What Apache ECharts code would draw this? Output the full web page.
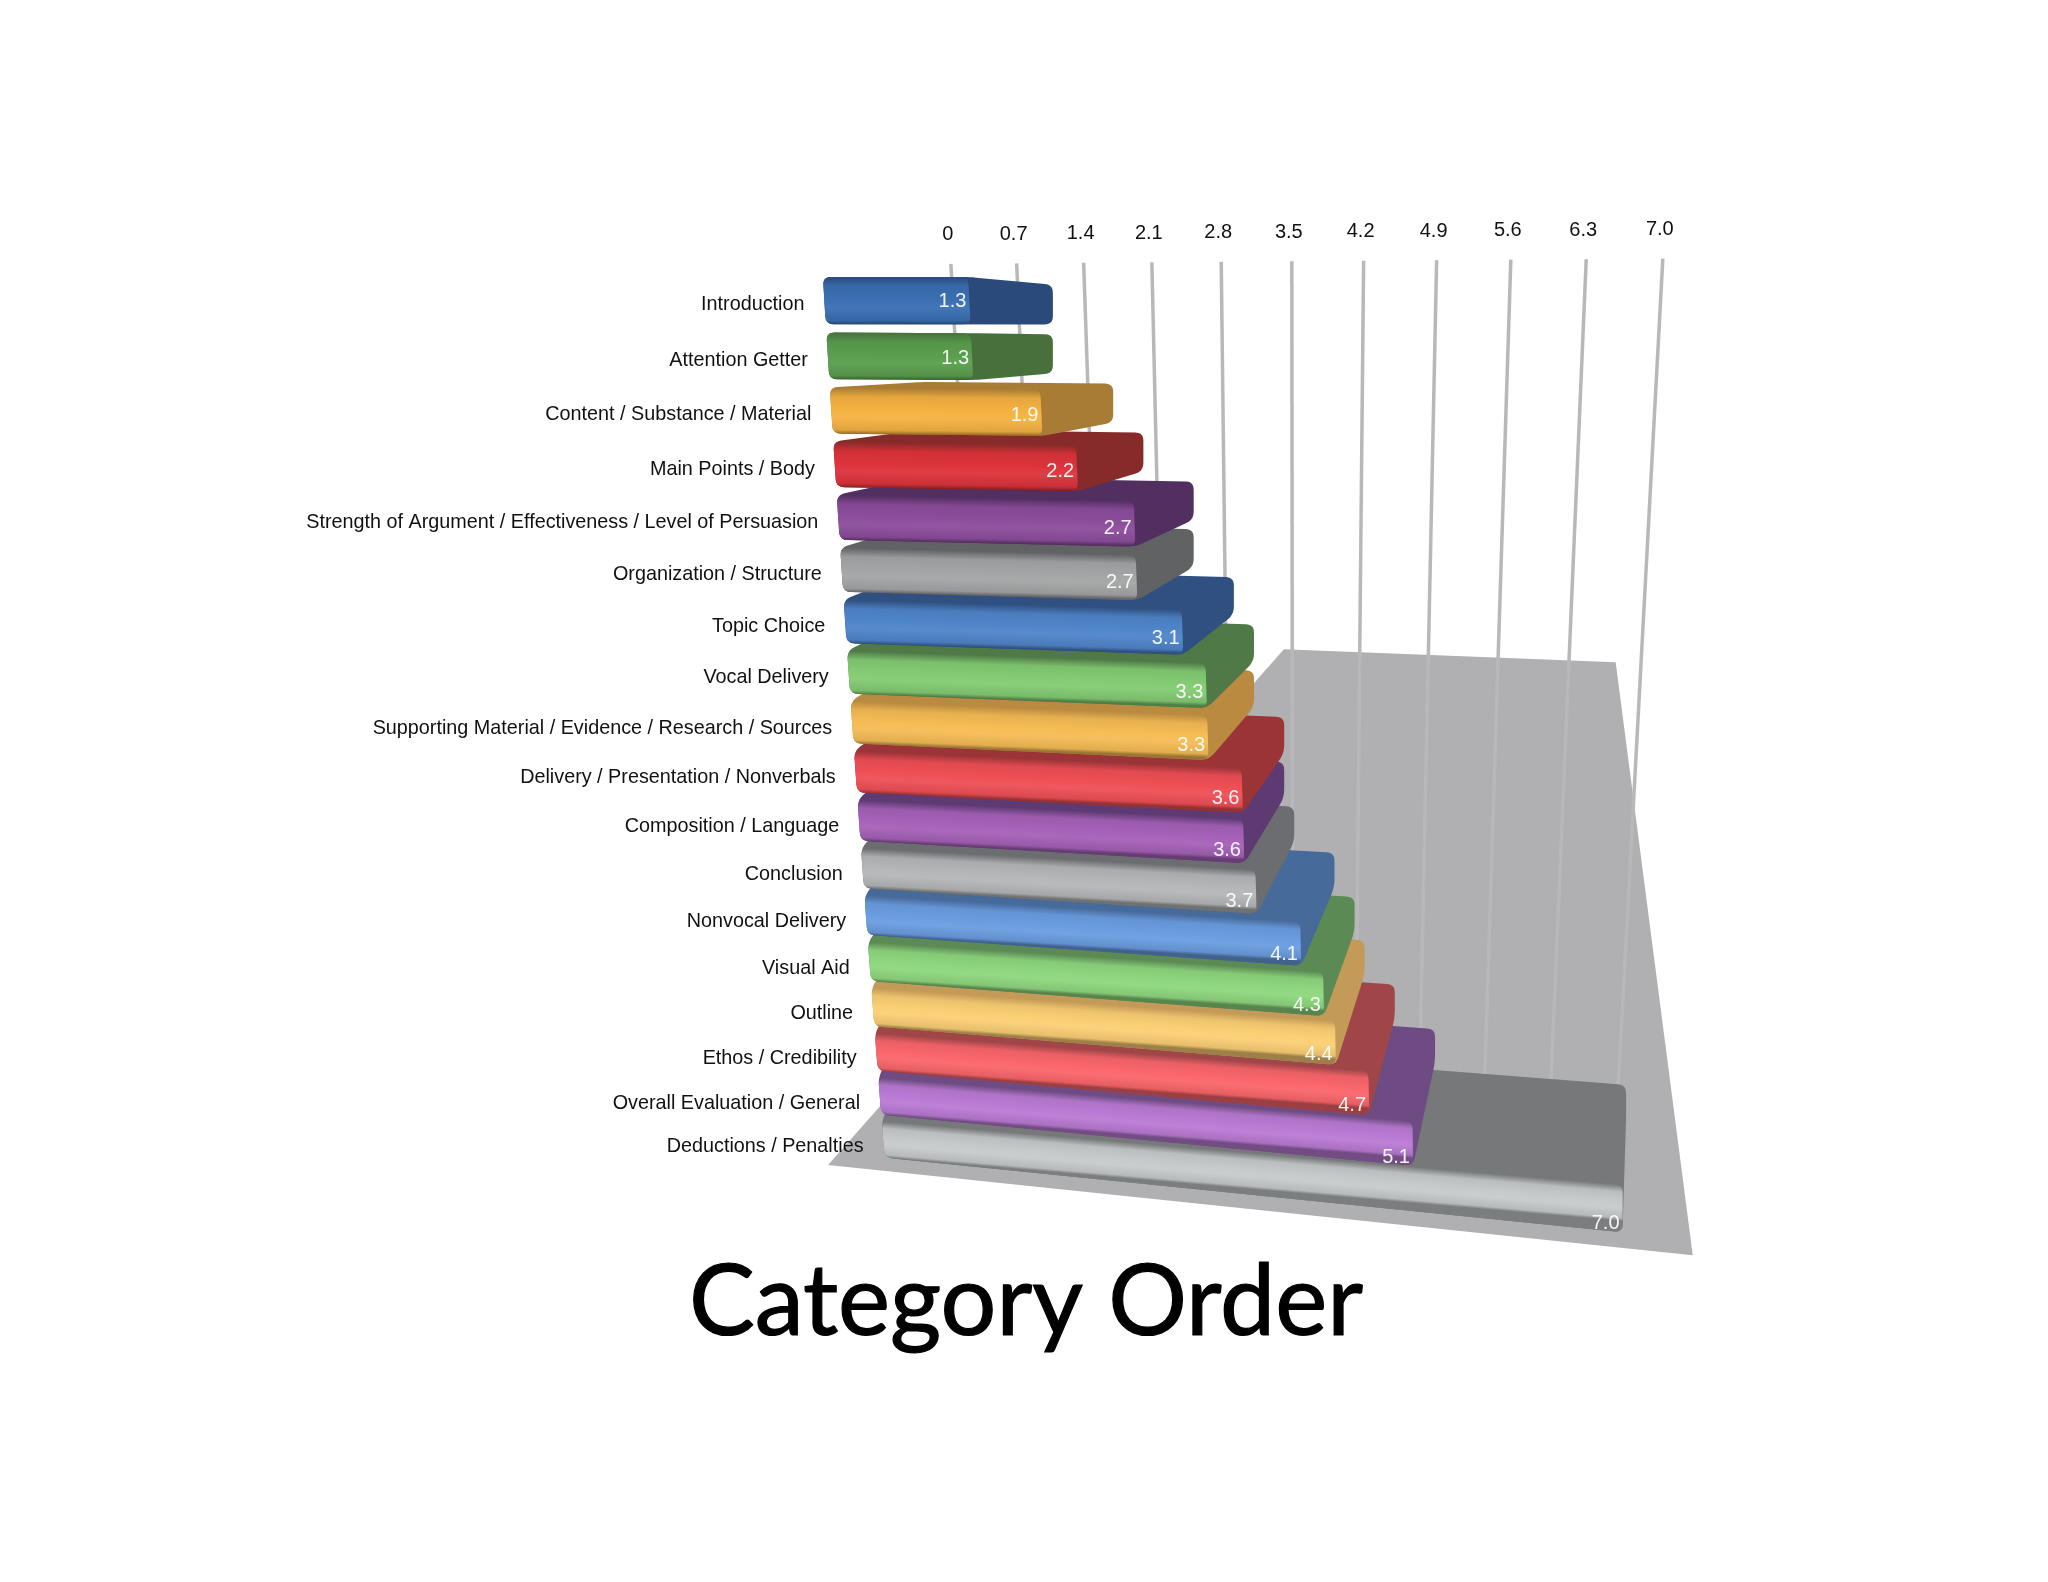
<!DOCTYPE html>
<html><head><meta charset="utf-8">
<style>html,body{margin:0;padding:0;background:#fff}#c{width:2048px;height:1582px}</style>
<script src="https://cdn.jsdelivr.net/npm/echarts@6/dist/echarts.min.js"></script>
</head><body><div id="c"></div>
<script>
const categories = ["Introduction","Attention Getter","Content / Substance / Material","Main Points / Body","Strength of Argument / Effectiveness / Level of Persuasion","Organization / Structure","Topic Choice","Vocal Delivery","Supporting Material / Evidence / Research / Sources","Delivery / Presentation / Nonverbals","Composition / Language","Conclusion","Nonvocal Delivery","Visual Aid","Outline","Ethos / Credibility","Overall Evaluation / General","Deductions / Penalties"];
const values = [1.3,1.3,1.9,2.2,2.7,2.7,3.1,3.3,3.3,3.6,3.6,3.7,4.1,4.3,4.4,4.7,5.1,7.0];
const tickValues = [0,0.7,1.4,2.1,2.8,3.5,4.2,4.9,5.6,6.3,7.0];
const tickLabels = ["0","0.7","1.4","2.1","2.8","3.5","4.2","4.9","5.6","6.3","7.0"];
const frontColors = ["#3a6fb3","#5a9e4e","#f5b242","#dd333b","#8c4d9c","#a3a5a6","#4f85c9","#83cb72","#f6bc55","#ee4f55","#a561b8","#b4b6b7","#6a9de0","#8ed77e","#fbcf74","#fa666b","#b97ad4","#c6cacb"];
const sideColors = ["#2a4a7c","#47703c","#a87c34","#862a2a","#512f60","#606264","#2f5080","#4f7a48","#b98a40","#9a3437","#5e3a72","#6c6d70","#466a9a","#5c8a55","#c49a58","#a04548","#6e4b82","#77787a"];
const VMAX = 7, RMAX = 18, S = 2048/1568, GRID = {left:0, top:0, width:2048, height:1582};
const FLOOR_EXTENT = [[0,0],[VMAX,0],[VMAX,1],[0,1]];
const barDepth=.85, backDepth=.8;

// Projection of the 3-D scene
const front = (v,r)=>{const k=Math.floor(r+1e-6), f=Math.min(1,(r-k)/barDepth);
  return [(630+2.65*r+(85.5-.42*r)*v+.055*v*v*v)*S,
          (212+42.9*r-.287*r*r+(.41*k+f*1.2*k/17)*v)*S];};
const back  = (v,r)=>[(706+77*v)*S,(218+37.7*r-.242*r*r+.35*r*v)*S];
const wall  = (v,t)=>{const xt=728+71.3*v+.939*v*v, yt=202-4*v/VMAX, yb=785+47*v/VMAX, y=yt+(yb-yt)*t;
  return [(xt+(.056-.0157*v)*(y-yt))*S, y*S];};
const floorPt = (v,d)=>{const u=v/VMAX,
  bx=983+(1237-983)*u, by=497+(507-497)*u, fx=634+(1296-634)*u, fy=892+(961-892)*u;
  return [(bx+(fx-bx)*d)*S,(by+(fy-by)*d)*S];};

// go through the library's own axes, then into scene coordinates
function logical(api,v,r){const p=api.coord([v,r]);
  return [(p[0]-GRID.left)/GRID.width*VMAX,(p[1]-GRID.top)/GRID.height*RMAX];}

function hull(pts){const s=pts.slice().sort((a,b)=>a[0]-b[0]||a[1]-b[1]);
  const c=(o,a,b)=>(a[0]-o[0])*(b[1]-o[1])-(a[1]-o[1])*(b[0]-o[0]);
  const lo=[],up=[];
  for(const p of s){while(lo.length>1&&c(lo[lo.length-2],lo[lo.length-1],p)<=0)lo.pop();lo.push(p);}
  for(const p of s.slice().reverse()){while(up.length>1&&c(up[up.length-2],up[up.length-1],p)<=0)up.pop();up.push(p);}
  return lo.slice(0,-1).concat(up.slice(0,-1));}
function rounded(pts,rad){const out=[],n=pts.length;
  for(let i=0;i<n;i++){const p=pts[i],a=pts[(i+n-1)%n],b=pts[(i+1)%n];
    const la=Math.hypot(a[0]-p[0],a[1]-p[1]),lb=Math.hypot(b[0]-p[0],b[1]-p[1]);
    const ra=Math.min(rad,la/2),rb=Math.min(rad,lb/2);
    const p0=[p[0]+(a[0]-p[0])*ra/la,p[1]+(a[1]-p[1])*ra/la],p1=[p[0]+(b[0]-p[0])*rb/lb,p[1]+(b[1]-p[1])*rb/lb];
    for(let t=0;t<=1.001;t+=.2){const m=1-t;
      out.push([m*m*p0[0]+2*m*t*p[0]+t*t*p1[0],m*m*p0[1]+2*m*t*p[1]+t*t*p1[1]]);}
  }
  return out;}
function mix(hex,to,f){const c=[1,3,5].map(i=>parseInt(hex.substr(i,2),16));
  return 'rgb('+c.map(x=>Math.round(x+(to-x)*f)).join(',')+')';}

function renderBar(params,api){
  const val=api.value(0), row=api.value(1), [v,r]=logical(api,val,row);
  const k=Math.round(r);
  const ftl=front(0,k),ftr=front(v,k),fbr=front(v,k+barDepth),fbl=front(0,k+barDepth);
  const btl=back(0,k),btr=back(v,k),bbr=back(v,k+backDepth),bbl=back(0,k+backDepth);
  const side=rounded(hull([ftl,ftr,fbr,fbl,btl,btr,bbr,bbl]),8);
  const ex=ftr[0]-ftl[0],ey=ftr[1]-ftl[1],el=Math.hypot(ex,ey),nx=-ey/el,ny=ex/el;
  const d=(fbl[0]-ftl[0])*nx+(fbl[1]-ftl[1])*ny;
  const c=frontColors[k];
  const grad=new echarts.graphic.LinearGradient(ftl[0],ftl[1],ftl[0]+nx*d,ftl[1]+ny*d,[
    {offset:0,color:sideColors[k]},{offset:.2,color:mix(c,0,.06)},{offset:.48,color:c},
    {offset:.65,color:mix(c,255,.05)},{offset:.92,color:mix(c,0,.08)},{offset:1,color:mix(c,0,.38)}],true);
  const frontPoly=rounded([ftl,ftr,fbr,fbl],8);
  return {type:'group',children:[
    {type:'polygon',shape:{points:side},style:{fill:sideColors[k]}},
    {type:'polygon',shape:{points:frontPoly},style:{fill:grad}}
  ]};
}
function renderValueLabel(params,api){
  const val=api.value(0), row=api.value(1), [v,r]=logical(api,val,row);
  const k=Math.round(r);
  const p=front(v,k+barDepth*(.5+.3*k/17));
  return {type:'text',style:{text:val.toFixed(1),x:p[0]-3,y:p[1]+1,fill:'rgba(255,255,255,.92)',
    fontFamily:'Liberation Sans',fontSize:20,align:'right',verticalAlign:'middle'}};
}
function renderCatLabel(params,api){
  const row=api.value(1), [v,r]=logical(api,0,row);
  const k=Math.round(r);
  const p=front(0,k+.45+.005*k);
  return {type:'text',style:{text:categories[k],x:p[0]-20,y:p[1]+2.5,fill:'#111',
    fontFamily:'Liberation Sans',fontSize:19.8,align:'right',verticalAlign:'middle'}};
}
function renderTick(params,api){
  const i=params.dataIndex,[v]=logical(api,api.value(0),0);
  const a=wall(v,0),b=wall(v,1);
  return {type:'group',children:[
    {type:'line',shape:{x1:a[0],y1:a[1],x2:b[0],y2:b[1]},style:{stroke:'#b8b8ba',lineWidth:3.5}},
    {type:'text',style:{text:tickLabels[i],x:a[0]-3,y:a[1]-29,fill:'#111',fontFamily:'Liberation Sans',fontSize:20,align:'center',verticalAlign:'middle'}}
  ]};
}
function renderFloor(params,api){
  if(params.dataIndex!==0) return null;
  const pts=FLOOR_EXTENT.map(e=>{const [v]=logical(api,e[0],0);return floorPt(v,e[1]);});
  return {type:'polygon',shape:{points:pts},style:{fill:'#b0afb1'}};
}
const barData=values.map((x,i)=>[x,i]).reverse();
const common={type:'custom',coordinateSystem:'cartesian2d',clip:false,silent:true,animation:false};
const chart=echarts.init(document.getElementById('c'),null,{renderer:'canvas'});
chart.setOption({
  backgroundColor:'#fff',animation:false,
  title:{text:'Category Order',left:1021,top:1249,textAlign:'center',
    textStyle:{fontFamily:'Lato',fontWeight:'normal',fontSize:98.5,color:'#000',textBorderColor:'#000',textBorderWidth:1.2}},
  grid:{left:GRID.left,top:GRID.top,width:GRID.width,height:GRID.height},
  xAxis:{type:'value',min:0,max:VMAX,show:false},
  yAxis:{type:'value',min:0,max:RMAX,inverse:true,show:false},
  series:[
    Object.assign({},common,{name:'floor',z:1,data:FLOOR_EXTENT,renderItem:renderFloor}),
    Object.assign({},common,{name:'ticks',z:2,data:tickValues.map(v=>[v,0]),renderItem:renderTick}),
    Object.assign({},common,{name:'bars',z:3,data:barData,renderItem:renderBar}),
    Object.assign({},common,{name:'categories',z:4,data:barData,renderItem:renderCatLabel}),
    Object.assign({},common,{name:'values',z:4,data:barData,renderItem:renderValueLabel})
  ]
});
</script></body></html>
